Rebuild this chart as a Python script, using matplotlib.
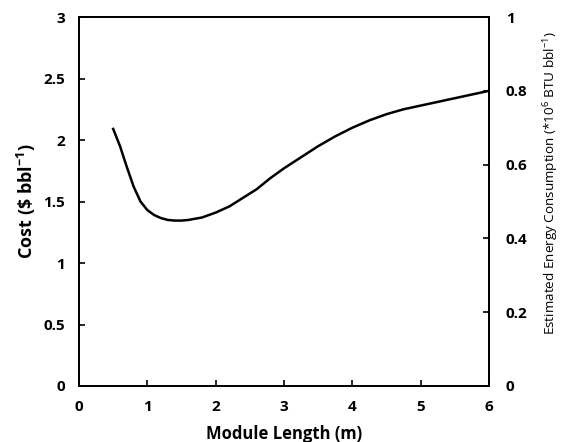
import matplotlib
matplotlib.use("Agg")
import matplotlib.pyplot as plt

module_length = [0.5, 0.6, 0.7, 0.8, 0.9, 1.0, 1.1, 1.2, 1.3, 1.4, 1.5, 1.6, 1.8, 2.0, 2.2,
                 2.4, 2.6, 2.8, 3.0, 3.25, 3.5, 3.75, 4.0, 4.25, 4.5, 4.75, 5.0, 5.25, 5.5,
                 5.75, 6.0]
cost = [2.09, 1.95, 1.78, 1.62, 1.50, 1.43, 1.39, 1.365, 1.35, 1.345, 1.345, 1.35, 1.37,
        1.41, 1.46, 1.53, 1.60, 1.69, 1.77, 1.86, 1.95, 2.03, 2.10, 2.16, 2.21, 2.25, 2.28,
        2.31, 2.34, 2.37, 2.40]

x_ticks = [0, 1, 2, 3, 4, 5, 6]
x_labels = ["0", "1", "2", "3", "4", "5", "6"]
left_ticks = [0, 0.5, 1, 1.5, 2, 2.5, 3]
left_labels = ["0", "0.5", "1", "1.5", "2", "2.5", "3"]
right_ticks = [0, 0.2, 0.4, 0.6, 0.8, 1.0]
right_labels = ["0", "0.2", "0.4", "0.6", "0.8", "1"]

plt.rcParams['font.family'] = ['Open Sans', 'DejaVu Sans']
plt.rcParams['mathtext.fontset'] = 'custom'
plt.rcParams['mathtext.rm'] = 'Open Sans'
plt.rcParams['mathtext.bf'] = 'Open Sans:bold'
plt.rcParams['mathtext.default'] = 'regular'

fig = plt.figure(figsize=(5.66, 4.42), dpi=100)
ax = fig.add_axes([0.1396, 0.1267, 0.7244, 0.8348])
ax.plot(module_length, cost, color='black', lw=1.8)
ax.set_xlim(0, 6)
ax.set_ylim(0, 3)
ax.set_xticks(x_ticks)
ax.set_xticklabels(x_labels, fontweight='bold', fontsize=11)
ax.set_yticks(left_ticks)
ax.set_yticklabels(left_labels, fontweight='bold', fontsize=11)
ax.tick_params(axis='y', direction='in', length=4, width=1.2, pad=10)
ax.tick_params(axis='x', direction='in', length=4, width=1.2, pad=10)
for s in ax.spines.values():
    s.set_linewidth(1.3)
ax.set_xlabel("Module Length (m)", fontweight='bold', fontsize=12, labelpad=8)
ax.set_ylabel(r"Cost (\$ bbl$^{\mathbf{-1}}$)", fontweight='bold', fontsize=13, labelpad=4)

ax2 = ax.twinx()
ax2.set_ylim(0, 1)
ax2.set_yticks(right_ticks)
ax2.set_yticklabels(right_labels, fontweight='bold', fontsize=11)
ax2.tick_params(direction='in', length=4, width=1.2, pad=12)
for s in ax2.spines.values():
    s.set_linewidth(1.3)
ax2.set_ylabel(r"Estimated Energy Consumption (*10$^{6}$ BTU bbl$^{-1}$)", fontsize=9.7)
ax2.yaxis.set_label_coords(1.127, 0.55)

fig.savefig("out.png", dpi=100)
